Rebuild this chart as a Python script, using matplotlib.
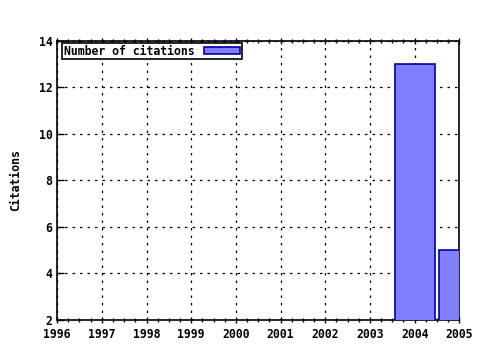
import matplotlib
matplotlib.use("Agg")
import matplotlib.pyplot as plt
from matplotlib.ticker import MultipleLocator

years = [2004, 2005]
citations = [13, 5]

plt.rcParams['font.family'] = 'DejaVu Sans Mono'
plt.rcParams['font.weight'] = 'bold'
plt.rcParams['font.size'] = 8.3

fig = plt.figure(figsize=(4.8, 3.5), dpi=100)
ax = fig.add_axes([0.119, 0.086, 0.838, 0.797])

ax.bar(years, citations, width=0.9, color='#8080ff', edgecolor='#0000a0',
       linewidth=1.2, label='Number of citations', zorder=3)

ax.set_xlim(1996, 2005)
ax.set_ylim(2, 14)
ax.xaxis.set_major_locator(MultipleLocator(1))
ax.xaxis.set_minor_locator(MultipleLocator(0.25))
ax.yaxis.set_major_locator(MultipleLocator(2))
ax.tick_params(axis='x', which='both', direction='inout', top=True, length=5, width=1)
ax.tick_params(axis='x', which='minor', length=3)
ax.tick_params(axis='y', direction='in', length=5, width=1)
ax.grid(True, which='major', linestyle=(0, (2, 4)), color='black', linewidth=0.9)
for s in ax.spines.values():
    s.set_linewidth(1.2)

ax.set_ylabel('Citations', fontweight='bold', labelpad=12)

leg = ax.legend(loc='upper left', bbox_to_anchor=(0.012, 0.993), fancybox=False,
                edgecolor='black', framealpha=1, markerfirst=False,
                handlelength=3.2, handleheight=0.6, borderpad=0.15,
                borderaxespad=0, handletextpad=0.8)
leg.get_frame().set_linewidth(1.2)

fig.savefig('out.png', dpi=100)
